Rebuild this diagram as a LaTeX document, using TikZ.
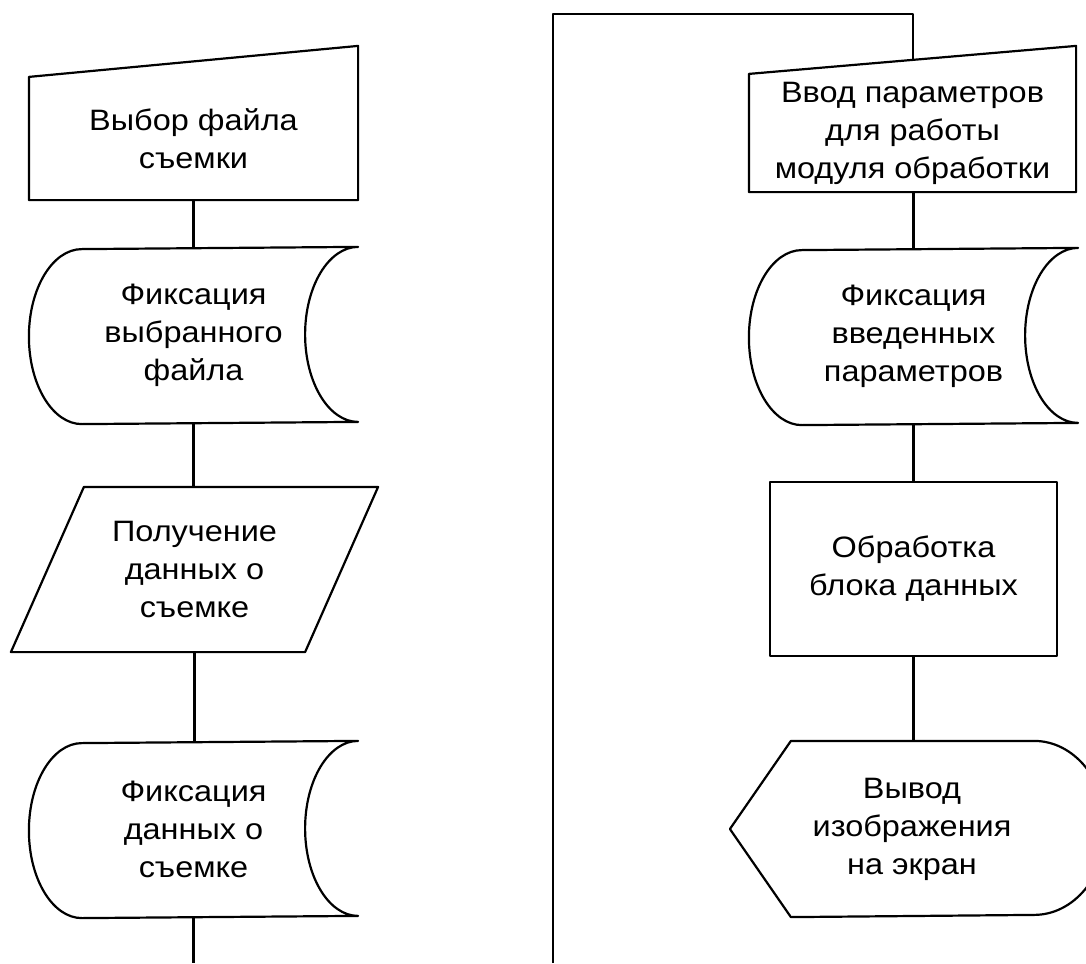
\documentclass[tikz,border=0pt]{standalone}
\usepackage{fontspec}
\setmainfont{Liberation Sans}[FakeStretch=1.1]

% outlines drawn from the anchors of a named node
\newcommand{\manualshape}[2]{%
  \draw (#1.south west) -- (#1.north west) -- ([yshift=#2pt]#1.north east) -- (#1.south east) -- cycle;}
\newcommand{\storeshape}[1]{%
  \draw (#1.north east)
    arc[start angle=90, end angle=270, x radius=53pt, y radius=87.5pt]
    -- ([xshift=53pt]#1.south west)
    arc[start angle=270, end angle=90, x radius=53pt, y radius=87.5pt] -- cycle;}
\newcommand{\datashape}[1]{%
  \draw ([xshift=36.5pt]#1.north west) -- ([xshift=36.5pt]#1.north east)
    -- ([xshift=-36.5pt]#1.south east) -- ([xshift=-36.5pt]#1.south west) -- cycle;}
\newcommand{\displayshape}[1]{%
  \draw (#1.west) -- ([xshift=61pt]#1.north west) -- ([xshift=-60pt]#1.north east)
    arc[start angle=90, end angle=-90, x radius=72pt, y radius=87pt]
    -- ([xshift=61pt]#1.south west) -- cycle;}

\begin{document}
\begin{tikzpicture}[x=1pt, y=1pt, line width=2.2pt, line join=round]
    \tikzstyle{block}=[inner sep=0pt, align=center, font=\fontsize{29.5}{38}\selectfont]
    \tikzstyle{input block}=[block, minimum width=327pt, minimum height=121pt]
    \tikzstyle{store block}=[block, minimum width=327pt, minimum height=175pt]
    \tikzstyle{data block}=[block, minimum width=292pt, minimum height=163pt]
    \tikzstyle{process block}=[block, draw, minimum width=287pt, minimum height=174pt]
    \tikzstyle{display block}=[block, minimum width=362pt, minimum height=174pt]

    \useasboundingbox (0,0) rectangle (1086,-963);

    % Draw the left column
    \node[input block] (M-1) at (193.5,-138.5) {Выбор файла\\съемки};
    \node[store block] (S-1) at (193.5,-335.5) {Фиксация\\выбранного\\файла};
    \node[data block] (D-1) at (194.5,-569.5) {Получение\\данных о\\съемке};
    \node[store block] (S-2) at (193.5,-829.5) {Фиксация\\данных о\\съемке};
    \coordinate (end-1) at (193.5,-963);

    % Draw the right column
    \node[input block, minimum width=325pt, minimum height=116pt] (M-2) at (912.5,-133)
        {Ввод параметров\\для работы\\модуля обработки};
    \node[store block] (S-3) at (913.5,-336.5) {Фиксация\\введенных\\параметров};
    \node[process block] (P-1) at (913.5,-569) {Обработка\\блока данных};
    \node[display block] (V-1) at (912,-829) {Вывод\\изображения\\на экран};
    \coordinate (start-2) at (553,-963);
    \coordinate (turn-2) at (913,-14);

    \manualshape{M-1}{31}
    \manualshape{M-2}{28}
    \foreach \name in {S-1,S-2,S-3}
        {\storeshape{\name}}
    \datashape{D-1}
    \displayshape{V-1}

    % connect the blocks
    \foreach \source/\dest in {M-1/S-1, S-1/D-1, D-1/S-2}
        \draw (\source.south) -- (\source.south |- \dest.north);
    \foreach \source/\dest in {M-2/S-3, S-3/P-1, P-1/V-1}
        \draw (S-3.south |- \source.south) -- (S-3.south |- \dest.north);
    \draw (S-2.south) -- (end-1);
    \draw (start-2) |- (turn-2) -- ([yshift=14pt]M-2.north -| turn-2);
\end{tikzpicture}
\end{document}
